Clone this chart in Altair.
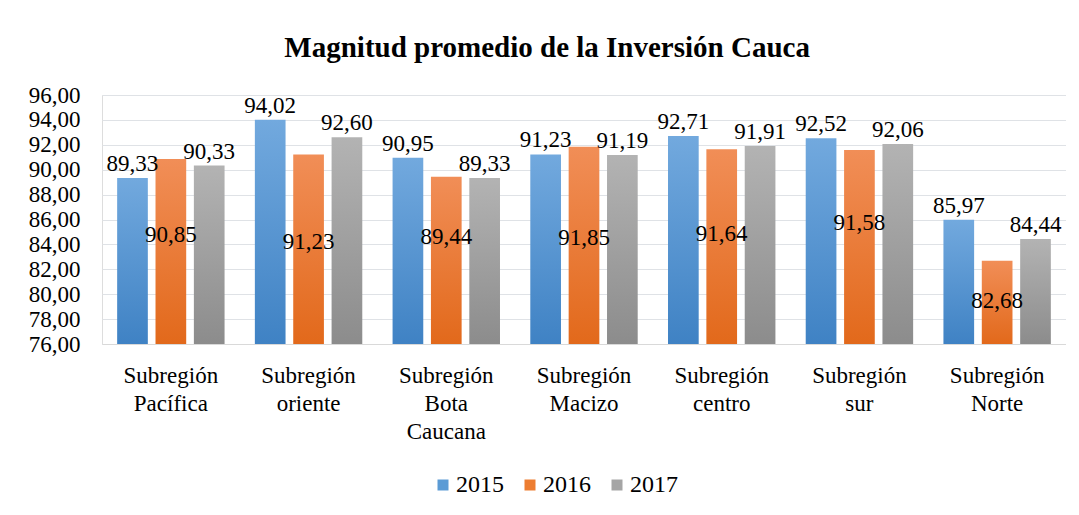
import altair as alt
import pandas as pd

regions = ["Subregión Pacífica", "Subregión oriente", "Subregión Bota Caucana",
           "Subregión Macizo", "Subregión centro", "Subregión sur", "Subregión Norte"]
years = ["2015", "2016", "2017"]
v2015 = [89.33, 94.02, 90.95, 91.23, 92.71, 92.52, 85.97]
v2016 = [90.85, 91.23, 89.44, 91.85, 91.64, 91.58, 82.68]
v2017 = [90.33, 92.60, 89.33, 91.19, 91.91, 92.06, 84.44]
# where the 2016 value labels sit (in axis units)
lab2016 = [84.76, 84.2, 84.6, 84.5, 84.8, 85.7, 79.45]

rows = []
for i, r in enumerate(regions):
    for y, vals in zip(years, [v2015, v2016, v2017]):
        rows.append({"region": r, "year": y, "value": vals[i],
                     "labpos": lab2016[i] if y == "2016" else vals[i]})
df = pd.DataFrame(rows)

FONT = "Liberation Serif"
legend_colors = ["#5B9BD5", "#ED7D31", "#A5A5A5"]
grad_top = ["#72A9DE", "#F18E57", "#B3B3B3"]
grad_bot = ["#3F82C4", "#E2691B", "#8C8C8C"]

x_enc = alt.X("region:N", sort=regions, title=None,
              scale=alt.Scale(paddingInner=0.22, paddingOuter=0.11),
              axis=alt.Axis(labelExpr="split(datum.label, ' ')", labelAngle=0,
                            labelFont=FONT, labelFontSize=23, labelColor="black",
                            labelLineHeight=28, labelPadding=20, ticks=False,
                            domainColor="#d9d9d9", labelLimit=200, labelOverlap=False))
xo_enc = alt.XOffset("year:N", scale=alt.Scale(domain=years, paddingInner=0.2, paddingOuter=0))
y_scale = alt.Scale(domain=[76, 96], zero=False, nice=False)
y_axis = alt.Axis(values=list(range(76, 97, 2)),
                  labelExpr="replace(format(datum.value, '.2f'), '.', ',')",
                  labelFont=FONT, labelFontSize=23, labelColor="black",
                  labelPadding=22, ticks=False, domain=False,
                  labelOverlap=False, labelFlush=False,
                  gridColor="#dfe2e6", gridWidth=1)


def y_of(field):
    return alt.Y(f"{field}:Q", scale=y_scale, title=None, axis=y_axis)


base = alt.Chart(df)

legend_layer = base.mark_bar(opacity=0).encode(
    x=x_enc, xOffset=xo_enc, y=y_of("value"), y2=alt.datum(76),
    color=alt.Color("year:N", scale=alt.Scale(domain=years, range=legend_colors),
                    legend=alt.Legend(title=None, orient="none", direction="horizontal",
                                      legendX=329, legendY=378,
                                      symbolType="square", symbolSize=121,
                                      symbolOpacity=1, symbolStrokeWidth=0,
                                      labelFont=FONT, labelFontSize=24, labelColor="black",
                                      labelOffset=1, columnPadding=14)))

bar_layers = []
for yr, t, b in zip(years, grad_top, grad_bot):
    bar_layers.append(
        base.transform_filter(alt.datum.year == yr).mark_bar(
            color=alt.Gradient(gradient="linear",
                               stops=[alt.GradientStop(color=t, offset=0),
                                      alt.GradientStop(color=b, offset=1)],
                               x1=0, x2=0, y1=0, y2=1)
        ).encode(x=x_enc, xOffset=xo_enc, y=y_of("value"), y2=alt.datum(76))
    )

fmt = "replace(format(datum.value, '.2f'), '.', ',')"
top_labels = base.transform_filter(alt.datum.year != "2016").transform_calculate(
    lab=fmt).mark_text(font=FONT, fontSize=23, color="black", baseline="bottom", dy=-2).encode(
    x=x_enc, xOffset=xo_enc, y=y_of("value"), text="lab:N")

mid_labels = base.transform_filter(alt.datum.year == "2016").transform_calculate(
    lab=fmt).mark_text(font=FONT, fontSize=23, color="black", baseline="middle").encode(
    x=x_enc, xOffset=xo_enc, y=y_of("labpos"), text="lab:N")

chart = alt.layer(legend_layer, *bar_layers, top_labels, mid_labels).properties(
    width=964, height=249,
    title=alt.TitleParams("Magnitud promedio de la Inversión Cauca", font=FONT,
                          fontSize=29, fontWeight="bold", color="black",
                          anchor="middle", frame="bounds", offset=21),
    padding={"left": 20, "top": 26, "right": 0, "bottom": 0},
).configure_view(stroke=None).configure(background="white")

chart.save("out.html", embed_options={"renderer": "svg", "actions": False})
